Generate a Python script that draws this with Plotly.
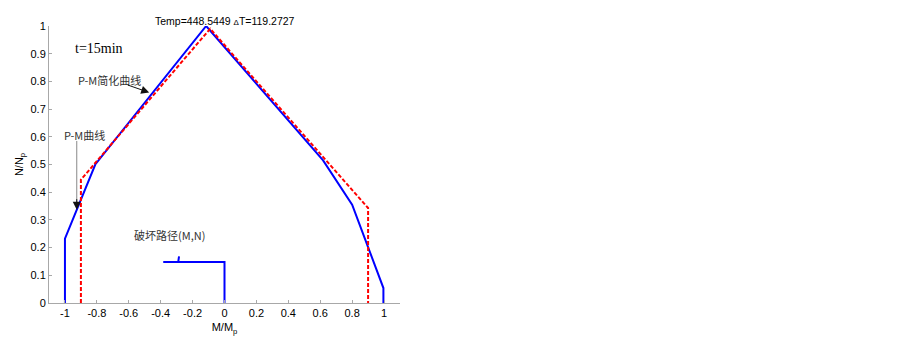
import plotly.graph_objects as go

# P-M interaction curve (blue solid)
pm_m = [-1.0, -1.0, -0.81, -0.115, 0.618, 0.80, 0.996, 0.996]
pm_n = [0.0, 0.232, 0.50, 1.0, 0.515, 0.355, 0.054, 0.0]

# Simplified P-M curve (red dashed)
simp_m = [-0.9, -0.9, -0.09, 0.9, 0.9]
simp_n = [0.0, 0.445, 0.99, 0.343, 0.0]

# Failure path (M,N)
path_m = [-0.384, -0.29, -0.285, -0.29, 0.0, 0.0]
path_n = [0.148, 0.148, 0.168, 0.148, 0.148, 0.0]

x_ticks = [-1, -0.8, -0.6, -0.4, -0.2, 0, 0.2, 0.4, 0.6, 0.8, 1]
x_tick_text = ["-1", "-0.8", "-0.6", "-0.4", "-0.2", "0", "0.2", "0.4", "0.6", "0.8", "1"]
y_ticks = [0, 0.1, 0.2, 0.3, 0.4, 0.5, 0.6, 0.7, 0.8, 0.9, 1]
y_tick_text = ["0", "0.1", "0.2", "0.3", "0.4", "0.5", "0.6", "0.7", "0.8", "0.9", "1"]

fig = go.Figure()
fig.add_trace(go.Scatter(x=pm_m, y=pm_n, mode="lines",
                         line=dict(color="#0000ff", width=2), showlegend=False))
fig.add_trace(go.Scatter(x=simp_m, y=simp_n, mode="lines",
                         line=dict(color="#ff0000", width=2, dash="4px,2px"), showlegend=False))
fig.add_trace(go.Scatter(x=path_m, y=path_n, mode="lines",
                         line=dict(color="#0000ff", width=2), showlegend=False))

axis_font = dict(family="Liberation Sans, Arial", size=11, color="#000")
fig.update_layout(
    width=903, height=342,
    margin=dict(l=41, r=511, t=18, b=47),
    paper_bgcolor="white", plot_bgcolor="white",
    font=axis_font,
    xaxis=dict(range=[-1.1, 1.1], tickvals=x_ticks, ticktext=x_tick_text,
               showgrid=False, zeroline=False, showline=True, linecolor="#a8a8a8",
               linewidth=1, ticks="inside", ticklen=3, tickcolor="#a8a8a8",
               tickfont=axis_font, automargin=False,
               title=dict(text="M/M<sub>p</sub>", font=axis_font, standoff=5)),
    yaxis=dict(range=[0, 1], tickvals=y_ticks, ticktext=y_tick_text,
               showgrid=False, zeroline=False, showline=True, linecolor="#a8a8a8",
               linewidth=1, ticks="inside", ticklen=3, tickcolor="#a8a8a8",
               tickfont=axis_font, automargin=False,
               title=dict(text="N/N<sub>p</sub>", font=axis_font, standoff=4)),
)

fig.add_annotation(xref="paper", yref="paper", x=0.5, y=1.0, yshift=13,
                   text="Temp=448.5449 <span style='font-size:8px'>Δ</span>T=119.2727",
                   showarrow=False, font=dict(family="Liberation Sans, Arial", size=10.5, color="#000"))
fig.add_annotation(x=-0.95, y=0.92, text="t=15min", showarrow=False, xanchor="left",
                   font=dict(family="Liberation Serif, Times New Roman", size=14, color="#000"))
fig.add_annotation(x=-0.93, y=0.805, text="P-M简化曲线", showarrow=False, xanchor="left",
                   font=dict(family="Noto Sans CJK SC", size=11, color="#333"))
fig.add_annotation(x=-0.472, y=0.760, ax=-23, ay=-8, text="", showarrow=True,
                   arrowhead=2, arrowsize=1.6, arrowwidth=1, arrowcolor="#111")
fig.add_annotation(x=-1.02, y=0.605, text="P-M曲线", showarrow=False, xanchor="left",
                   font=dict(family="Noto Sans CJK SC", size=11, color="#333"))
fig.add_shape(type="line", x0=-0.926, x1=-0.926, y0=0.585, y1=0.36,
              line=dict(color="#888", width=1))
fig.add_annotation(x=-0.926, y=0.337, ax=0, ay=-12, text="", showarrow=True,
                   arrowhead=2, arrowsize=1.6, arrowwidth=1, arrowcolor="#111")
fig.add_annotation(x=-0.58, y=0.245, text="破坏路径(M,N)", showarrow=False, xanchor="left",
                   font=dict(family="Noto Sans CJK SC", size=11, color="#333"))

fig.write_html("out.html")
